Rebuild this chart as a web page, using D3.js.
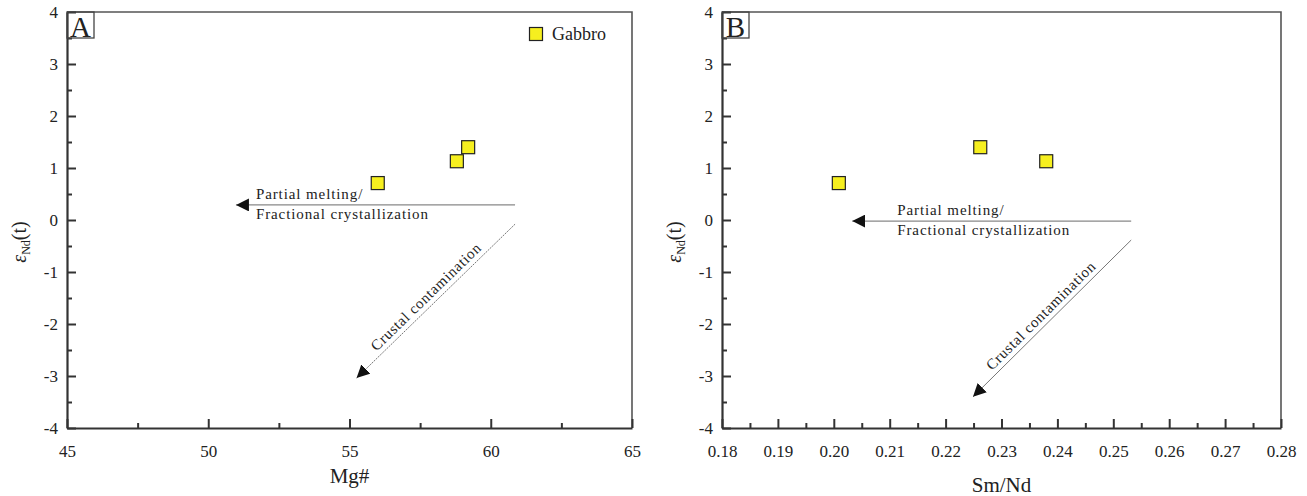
<!DOCTYPE html>
<html>
<head>
<meta charset="utf-8">
<script src="https://cdn.jsdelivr.net/npm/d3@7"></script>
<style>
  body { margin: 0; background: #fff; }
  svg { display: block; }
  svg text { font-family: "Liberation Serif", "Times New Roman", serif; fill: #222; }
</style>
</head>
<body>
<div id="container"></div>
<script>

// sample values (gabbro)
const mgNumber = [56.0, 58.8, 59.2];
const smNd = [0.2009, 0.2380, 0.2262];
const epsNd = [0.71, 1.13, 1.40];

// tick values
const yTicks = [-4, -3, -2, -1, 0, 1, 2, 3, 4];
const yMinor = [-3.5, -2.5, -1.5, -0.5, 0.5, 1.5, 2.5, 3.5];
const mgTicks = [45, 50, 55, 60, 65];
const mgMinor = [47.5, 52.5, 57.5, 62.5];
const smTicks = [0.18, 0.19, 0.20, 0.21, 0.22, 0.23, 0.24, 0.25, 0.26, 0.27, 0.28];
const smMinor = [0.185, 0.195, 0.205, 0.215, 0.225, 0.235, 0.245, 0.255, 0.265, 0.275];

// trend arrows [start, tip] in data units
const fcArrowA = [[60.86, 0.29], [50.98, 0.29]];
const ccArrowA = [[60.86, -0.08], [55.25, -3.04]];
const fcArrowB = [[0.2532, -0.02], [0.2033, -0.02]];
const ccArrowB = [[0.2532, -0.385], [0.2249, -3.40]];

const width = 1307, height = 496;
const plotTop = 12, plotBottom = 428;
const serif = '"Liberation Serif", "Times New Roman", serif';

const svg = d3.select('#container')
  .append('svg')
  .attr('width', width)
  .attr('height', height)
  .attr('font-family', serif);

const defs = svg.append('defs');
defs.append('marker')
  .attr('id', 'head')
  .attr('markerUnits', 'userSpaceOnUse')
  .attr('viewBox', '0 0 13 13')
  .attr('refX', 13).attr('refY', 6.5)
  .attr('markerWidth', 13).attr('markerHeight', 13)
  .attr('orient', 'auto')
  .append('path')
  .attr('d', 'M0,0 L13,6.5 L0,13 Z')
  .attr('fill', '#111');

function drawPanel(cfg) {
  const x = d3.scaleLinear().domain(cfg.xDomain).range([cfg.left, cfg.right]);
  const y = d3.scaleLinear().domain([-4, 4]).range([plotBottom, plotTop]);
  const g = svg.append('g');

  // frame (top + right)
  g.append('path')
    .attr('d', `M${cfg.left},${plotTop} H${cfg.right} V${plotBottom}`)
    .attr('fill', 'none')
    .attr('stroke', '#555')
    .attr('stroke-width', 1.6);

  // minor ticks
  g.append('g')
    .attr('transform', `translate(0,${plotBottom})`)
    .call(d3.axisBottom(x).tickValues(cfg.xMinor).tickSize(-5).tickSizeOuter(0).tickFormat(''))
    .call(a => a.select('.domain').remove())
    .call(a => a.selectAll('line').attr('stroke', '#333').attr('stroke-width', 2));
  g.append('g')
    .attr('transform', `translate(${cfg.left},0)`)
    .call(d3.axisLeft(y).tickValues(yMinor).tickSize(-5).tickSizeOuter(0).tickFormat(''))
    .call(a => a.select('.domain').remove())
    .call(a => a.selectAll('line').attr('stroke', '#333').attr('stroke-width', 2));

  // major ticks
  const xAxis = g.append('g')
    .attr('transform', `translate(0,${plotBottom})`)
    .call(d3.axisBottom(x).tickValues(cfg.xTicks).tickSize(-9).tickSizeOuter(0)
      .tickPadding(17).tickFormat(cfg.xFormat));
  const yAxis = g.append('g')
    .attr('transform', `translate(${cfg.left},0)`)
    .call(d3.axisLeft(y).tickValues(yTicks).tickSize(-9).tickSizeOuter(0)
      .tickPadding(9).tickFormat(d => String(d)));

  [xAxis, yAxis].forEach(a => {
    a.attr('font-family', serif).attr('font-size', 17);
    a.selectAll('line').attr('stroke', '#333').attr('stroke-width', 2);
    a.select('.domain').attr('stroke', '#333').attr('stroke-width', 2.2);
    a.selectAll('text').attr('fill', '#222');
  });
  yAxis.selectAll('text').attr('dy', '0.34em');

  // axis titles
  g.append('text')
    .attr('x', (cfg.left + cfg.right) / 2)
    .attr('y', cfg.xTitleY)
    .attr('text-anchor', 'middle')
    .attr('font-size', 21)
    .text(cfg.xTitle);

  const yt = g.append('text')
    .attr('transform', `translate(${cfg.left - 41},242) rotate(-90)`)
    .attr('text-anchor', 'middle')
    .attr('font-size', 20);
  yt.append('tspan').attr('font-style', 'italic').text('ε');
  yt.append('tspan').attr('font-size', 12).attr('dy', 4).text('Nd');
  yt.append('tspan').attr('dy', -4).text('(t)');

  // panel letter box
  g.append('rect')
    .attr('x', cfg.left).attr('y', plotTop)
    .attr('width', 27).attr('height', 26)
    .attr('fill', 'none').attr('stroke', '#444').attr('stroke-width', 1.3);
  g.append('text')
    .attr('x', cfg.left + 13.5).attr('y', plotTop + 25)
    .attr('text-anchor', 'middle')
    .attr('font-size', 29)
    .text(cfg.letter);

  // horizontal arrow: partial melting / fractional crystallization
  const fc = cfg.fcArrow;
  g.append('line')
    .attr('x1', x(fc[0][0])).attr('y1', y(fc[0][1]))
    .attr('x2', x(fc[1][0])).attr('y2', y(fc[1][1]))
    .attr('stroke', '#888').attr('stroke-width', 1.2)
    .attr('marker-end', 'url(#head)');
  const tx = x(fc[1][0]) + cfg.fcTextOffset;
  const ty = y(fc[1][1]);
  g.append('text').attr('x', tx).attr('y', ty - 6)
    .attr('font-size', 15).attr('letter-spacing', 0.9)
    .text('Partial melting/');
  g.append('text').attr('x', tx).attr('y', ty + 14)
    .attr('font-size', 15).attr('letter-spacing', 0.9)
    .text('Fractional crystallization');

  // diagonal arrow: crustal contamination
  const cc = cfg.ccArrow;
  const x1 = x(cc[0][0]), y1 = y(cc[0][1]), x2 = x(cc[1][0]), y2 = y(cc[1][1]);
  g.append('line')
    .attr('x1', x1).attr('y1', y1).attr('x2', x2).attr('y2', y2)
    .attr('stroke', '#777').attr('stroke-width', 1)
    .attr('stroke-dasharray', cfg.ccDash)
    .attr('marker-end', 'url(#head)');
  const ang = Math.atan2(y1 - y2, x1 - x2) * 180 / Math.PI;
  g.append('text')
    .attr('transform', `translate(${(x1 + x2) / 2},${(y1 + y2) / 2}) rotate(${ang})`)
    .attr('x', cfg.ccShift).attr('y', -5)
    .attr('text-anchor', 'middle')
    .attr('font-size', 15).attr('letter-spacing', 0.7)
    .text('Crustal contamination');

  // data points
  g.selectAll('rect.pt')
    .data(d3.range(epsNd.length))
    .join('rect')
    .attr('class', 'pt')
    .attr('x', i => x(cfg.xValues[i]) - 6.5)
    .attr('y', i => y(epsNd[i]) - 6.5)
    .attr('width', 13).attr('height', 13)
    .attr('fill', '#f6ef1f')
    .attr('stroke', '#222').attr('stroke-width', 1.2);

  return g;
}

const gA = drawPanel({
  letter: 'A', left: 67, right: 632,
  xDomain: [45, 65], xTicks: mgTicks, xMinor: mgMinor, xFormat: d => String(d),
  xTitle: 'Mg#', xTitleY: 483,
  xValues: mgNumber,
  fcArrow: fcArrowA, fcTextOffset: 20,
  ccArrow: ccArrowA, ccDash: '2,1', ccShift: -4
});

drawPanel({
  letter: 'B', left: 722, right: 1281,
  xDomain: [0.18, 0.28], xTicks: smTicks, xMinor: smMinor, xFormat: d3.format('.2f'),
  xTitle: 'Sm/Nd', xTitleY: 492,
  xValues: smNd,
  fcArrow: fcArrowB, fcTextOffset: 45,
  ccArrow: ccArrowB, ccDash: null, ccShift: -6
});

// legend
gA.append('rect')
  .attr('x', 529.5).attr('y', 27.5)
  .attr('width', 13).attr('height', 13)
  .attr('fill', '#f6ef1f')
  .attr('stroke', '#222').attr('stroke-width', 1.2);
gA.append('text')
  .attr('x', 552).attr('y', 40)
  .attr('font-size', 18)
  .text('Gabbro');

</script>
</body>
</html>
